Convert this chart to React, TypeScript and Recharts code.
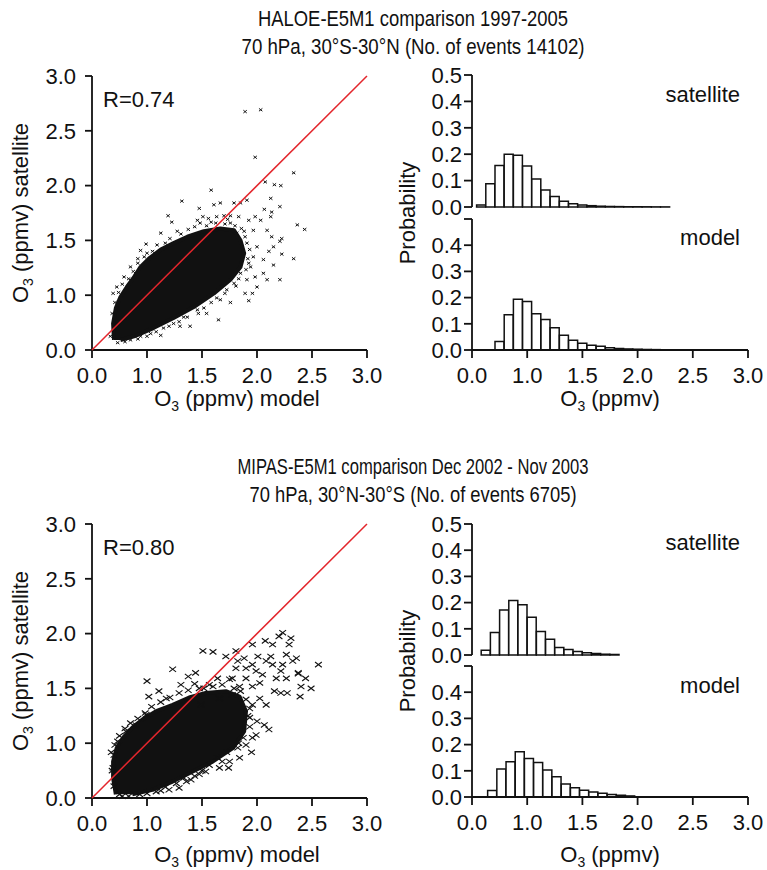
import React from "react";
import { ScatterChart, Scatter, BarChart, Bar, XAxis, YAxis } from "recharts";

const FONT = "'Liberation Sans', Arial, Helvetica, sans-serif";
const INK = "#111111";
const RED = "#e3262c";

// axis ticks (the plots label them 0.0, 1.0, 1.5 ... on an even spacing)
const AXIS_TICKS = [0, 0.6, 1.2, 1.8, 2.4, 3.0];
const AXIS_LABELS = ["0.0", "1.0", "1.5", "2.0", "2.5", "3.0"];
const PROB_TICKS = [0, 0.1, 0.2, 0.3, 0.4, 0.5];

const ONE_TO_ONE = [[0, 0], [3, 3]];

// HALOE: outline of the solid core of the cloud + the loose points around it
const HALOE_CORE = [
  [0.24, 0.11], [0.23, 0.29], [0.26, 0.46], [0.31, 0.58], [0.38, 0.69], [0.46, 0.8],
  [0.53, 0.91], [0.62, 1.0], [0.75, 1.1], [0.89, 1.17], [1.04, 1.24], [1.22, 1.3],
  [1.4, 1.33], [1.55, 1.31], [1.62, 1.2], [1.66, 1.06], [1.62, 0.91], [1.51, 0.77],
  [1.33, 0.62], [1.11, 0.47], [0.89, 0.35], [0.67, 0.24], [0.46, 0.15], [0.31, 0.11],
];
const HALOE_POINTS = [
  [1.67, 2.61], [1.84, 2.63], [1.78, 2.11], [2.2, 1.94], [1.89, 1.84], [1.99, 1.81], [2.06, 1.8],
  [1.3, 1.75], [0.98, 1.63], [1.17, 1.55], [1.33, 1.59], [1.4, 1.61], [1.55, 1.61], [1.62, 1.61],
  [1.69, 1.64], [1.95, 1.66], [2.05, 1.57], [1.96, 1.51], [1.88, 1.54], [0.83, 1.47], [0.87, 1.4],
  [1.15, 1.42], [1.21, 1.46], [1.27, 1.44], [1.36, 1.46], [1.44, 1.47], [1.51, 1.47], [1.6, 1.46],
  [1.71, 1.42], [1.78, 1.46], [1.84, 1.42], [1.95, 1.46], [1.76, 1.31], [1.91, 1.31], [2.24, 1.37],
  [2.32, 1.32], [2.07, 1.22], [1.96, 1.24], [2.05, 1.19], [1.98, 1.13], [1.93, 1.08], [2.07, 1.05],
  [1.8, 1.13], [1.87, 0.99], [2.2, 1.0], [1.98, 0.93], [1.73, 0.91], [1.87, 0.84], [2.05, 0.77],
  [1.91, 0.77], [1.78, 0.8], [1.8, 0.69], [1.75, 0.62], [1.69, 0.77], [1.67, 0.62], [1.51, 0.52],
  [1.71, 0.54], [1.38, 0.33], [1.25, 0.4], [1.07, 0.26], [0.96, 0.26], [0.75, 0.16], [0.59, 1.16],
  [0.5, 1.0], [0.53, 1.09], [0.75, 1.28], [0.2, 0.15], [0.23, 0.62], [0.27, 0.69], [0.35, 0.8],
  [0.42, 0.91], [0.6, 1.06], [0.71, 1.15], [0.93, 1.3], [1.18, 1.39], [1.35, 1.39], [1.51, 1.39],
  [1.58, 1.28], [1.67, 1.24], [1.76, 1.02], [1.71, 0.95], [1.62, 0.84], [1.55, 0.73], [1.47, 0.66],
  [1.36, 0.57], [1.15, 0.44], [1.04, 0.36], [0.89, 0.29], [0.78, 0.24], [0.64, 0.18], [0.53, 0.15],
  [0.42, 0.11], [0.22, 0.4], [0.25, 0.52], [0.29, 0.63], [0.33, 0.72], [0.4, 0.78], [0.45, 0.86],
  [0.5, 0.95], [0.57, 1.02], [0.66, 1.08], [0.8, 1.17], [0.85, 1.22], [0.97, 1.27], [1.05, 1.32],
  [1.12, 1.35], [1.25, 1.36], [1.3, 1.4], [1.45, 1.38], [1.48, 1.43], [1.56, 1.36], [1.63, 1.33],
  [1.66, 1.3], [1.69, 1.17], [1.72, 1.1], [1.7, 1.0], [1.68, 0.88], [1.6, 0.78], [1.57, 0.7],
  [1.45, 0.62], [1.4, 0.55], [1.3, 0.52], [1.22, 0.46], [1.16, 0.4], [1.0, 0.36], [0.95, 0.31],
  [0.84, 0.26], [0.7, 0.2], [0.6, 0.15], [0.5, 0.12], [0.36, 0.09], [0.28, 0.08],
];

// MIPAS
const MIPAS_CORE = [
  [0.26, 0.04], [0.23, 0.22], [0.23, 0.4], [0.27, 0.55], [0.34, 0.66], [0.44, 0.77],
  [0.55, 0.86], [0.7, 0.95], [0.88, 1.02], [1.06, 1.1], [1.24, 1.15], [1.46, 1.17],
  [1.61, 1.11], [1.68, 0.95], [1.66, 0.73], [1.54, 0.55], [1.32, 0.4], [1.1, 0.29],
  [0.88, 0.18], [0.66, 0.09], [0.44, 0.04],
];
const MIPAS_POINTS = [
  [0.6, 1.28], [0.62, 1.11], [0.88, 1.41], [0.97, 1.24], [1.05, 1.33], [1.13, 1.37], [1.21, 1.61],
  [1.32, 1.6], [1.46, 1.55], [1.57, 1.61], [1.59, 1.5], [1.66, 1.53], [1.75, 1.68], [1.81, 1.55],
  [1.89, 1.72], [1.95, 1.55], [1.97, 1.68], [2.04, 1.77], [2.08, 1.81], [2.15, 1.68], [2.17, 1.75],
  [2.12, 1.57], [2.19, 1.5], [2.23, 1.53], [2.25, 1.36], [2.33, 1.31], [2.39, 1.2], [2.47, 1.46],
  [2.28, 1.22], [2.27, 1.11], [2.25, 1.37], [1.79, 1.39], [1.86, 1.35], [1.68, 1.31], [1.75, 1.22],
  [1.83, 1.26], [2.01, 1.31], [2.06, 1.39], [2.12, 1.31], [2.06, 1.15], [2.13, 1.15], [1.99, 1.17],
  [1.83, 1.09], [1.9, 1.02], [1.75, 1.02], [1.8, 0.84], [1.88, 0.8], [1.93, 0.75], [1.79, 0.69],
  [1.68, 0.58], [1.74, 0.5], [1.59, 0.55], [1.49, 0.33], [1.5, 0.4], [1.37, 0.44], [1.24, 0.29],
  [1.08, 0.2], [0.95, 0.11], [0.84, 0.09], [1.19, 1.02], [1.39, 1.09], [1.53, 1.13], [1.28, 1.24],
  [1.5, 1.3], [1.37, 1.31], [1.17, 1.2], [0.73, 1.17], [0.81, 1.09], [0.59, 0.91], [0.48, 0.8],
  [0.37, 0.73], [0.28, 0.62], [0.24, 0.47], [0.23, 0.33], [0.24, 0.13], [0.3, 0.04], [1.75, 1.46],
  [1.68, 1.42], [1.57, 1.42], [1.9, 1.5], [1.97, 1.46], [2.08, 1.46], [1.53, 1.31], [1.61, 1.22],
  [1.72, 0.88], [1.75, 0.66], [1.61, 0.44], [1.39, 0.33], [1.17, 0.26], [1.03, 0.18], [0.7, 0.07],
  [0.52, 0.04], [0.22, 0.3], [0.21, 0.5], [0.25, 0.58], [0.3, 0.68], [0.36, 0.76], [0.42, 0.82],
  [0.5, 0.87], [0.58, 0.93], [0.65, 1.0], [0.75, 1.05], [0.85, 1.1], [0.95, 1.15], [1.05, 1.18],
  [1.12, 1.25], [1.22, 1.2], [1.32, 1.22], [1.42, 1.24], [1.55, 1.2], [1.62, 1.17], [1.68, 1.08],
  [1.72, 0.98], [1.7, 0.9], [1.72, 0.78], [1.65, 0.66], [1.6, 0.6], [1.47, 0.5], [1.42, 0.4],
  [1.28, 0.36], [1.2, 0.3], [1.12, 0.24], [1.0, 0.22], [0.92, 0.16], [0.8, 0.12], [0.75, 0.08],
  [0.6, 0.05], [0.4, 0.02], [0.33, 0.02],
];

// histograms: [bin centre, probability]
const HALOE_SAT = [
  [0.1, 0.008], [0.2, 0.088], [0.3, 0.157], [0.4, 0.2], [0.5, 0.196], [0.6, 0.155], [0.7, 0.106],
  [0.8, 0.064], [0.9, 0.04], [1.0, 0.022], [1.1, 0.012], [1.2, 0.008], [1.3, 0.005], [1.4, 0.003],
  [1.5, 0.002], [1.6, 0.0015], [1.7, 0.001], [1.8, 0.001], [1.9, 0.0008], [2.0, 0.0005], [2.1, 0.0004],
];
const HALOE_MOD = [
  [0.3, 0.032], [0.4, 0.135], [0.5, 0.194], [0.6, 0.185], [0.7, 0.138], [0.8, 0.116], [0.9, 0.085],
  [1.0, 0.056], [1.1, 0.037], [1.2, 0.026], [1.3, 0.018], [1.4, 0.014], [1.5, 0.009], [1.6, 0.006],
  [1.7, 0.004], [1.8, 0.003], [1.9, 0.002], [2.0, 0.0015], [2.1, 0.001], [2.2, 0.001], [2.3, 0.0005],
];
const MIPAS_SAT = [
  [0.15, 0.018], [0.25, 0.086], [0.35, 0.172], [0.45, 0.208], [0.55, 0.192], [0.65, 0.144],
  [0.75, 0.09], [0.85, 0.06], [0.95, 0.029], [1.05, 0.021], [1.15, 0.013], [1.25, 0.009],
  [1.35, 0.006], [1.45, 0.003], [1.55, 0.002],
];
const MIPAS_MOD = [
  [0.22, 0.025], [0.32, 0.107], [0.42, 0.135], [0.52, 0.173], [0.62, 0.147], [0.72, 0.132],
  [0.82, 0.103], [0.92, 0.077], [1.02, 0.05], [1.12, 0.035], [1.22, 0.026], [1.32, 0.019],
  [1.42, 0.014], [1.52, 0.01], [1.62, 0.007], [1.72, 0.004],
];

const toXY = (a: number[][]) => a.map(([x, y]) => ({ x, y }));
const toBins = (a: number[][]) => a.map(([x, p]) => ({ x, p }));

const FS = 22;
const tickStyle = { fill: INK, fontSize: FS, fontFamily: FONT };
const lineStyle = { stroke: INK, strokeWidth: 1.8 };

function XMark(props: any) {
  const { cx, cy, w, h, sw } = props;
  if (cx == null || cy == null) return <g />;
  return (
    <path
      d={`M${cx - w},${cy - h}L${cx + w},${cy + h}M${cx - w},${cy + h}L${cx + w},${cy - h}`}
      stroke={INK}
      strokeWidth={sw}
      fill="none"
    />
  );
}

function ScatterPanel({ top, core, points, mark, tickGap }: any) {
  return (
    <div style={{ position: "absolute", left: 0, top: top - 20 }}>
      <ScatterChart width={390} height={364} margin={{ top: 20, right: 23, bottom: 40, left: 32 }}>
        <XAxis type="number" dataKey="x" domain={[0, 3]} ticks={AXIS_TICKS} interval={0}
          tickFormatter={(_v: any, i: number) => AXIS_LABELS[i]} height={30}
          tick={tickStyle} tickSize={8} tickMargin={tickGap} axisLine={lineStyle} tickLine={lineStyle} />
        <XAxis xAxisId="top" orientation="top" type="number" domain={[0, 3]} height={0}
          tick={false} tickLine={false} axisLine={lineStyle} />
        <YAxis type="number" dataKey="y" domain={[0, 3]} ticks={AXIS_TICKS} interval={0}
          tickFormatter={(_v: any, i: number) => AXIS_LABELS[i]} width={60}
          tick={tickStyle} tickSize={7} tickMargin={9} axisLine={lineStyle} tickLine={lineStyle} />
        <YAxis yAxisId="right" orientation="right" type="number" domain={[0, 3]} width={0}
          tick={false} tickLine={false} axisLine={lineStyle} />
        <Scatter data={toXY(core)} fill={INK} isAnimationActive={false}
          line={{ stroke: INK, strokeWidth: 4, fill: INK, strokeLinejoin: "round" }}
          shape={() => <g />} />
        <Scatter data={toXY(points)} fill={INK} isAnimationActive={false}
          shape={(p: any) => <XMark cx={p.cx} cy={p.cy} {...mark} />} />
        <Scatter data={toXY(ONE_TO_ONE)} fill={RED} isAnimationActive={false}
          line={{ stroke: RED, strokeWidth: 1.5 }} shape={() => <g />} />
      </ScatterChart>
    </div>
  );
}

function HistPanel({ top, bottom, bins, showX, hideTop, tickGap }: any) {
  const plotH = bottom - top;
  const xh = showX ? 40 : 0;
  const mb = showX ? 20 : 16;
  return (
    <div style={{ position: "absolute", left: 400, top: top - 15 }}>
      <BarChart width={367} height={plotH + 15 + xh + mb} data={toBins(bins)}
        margin={{ top: 15, right: 19, bottom: mb, left: 12 }} barCategoryGap={0} barGap={0}>
        <XAxis type="number" dataKey="x" domain={[0, 3]} ticks={AXIS_TICKS} interval={0}
          tickFormatter={(_v: any, i: number) => AXIS_LABELS[i]} height={xh}
          tick={showX ? tickStyle : false} tickSize={8} tickMargin={tickGap}
          axisLine={lineStyle} tickLine={showX ? lineStyle : false} />
        <XAxis xAxisId="top" orientation="top" type="number" domain={[0, 3]} height={0}
          tick={false} tickLine={false} axisLine={lineStyle} />
        <YAxis type="number" domain={[0, 0.5]} ticks={PROB_TICKS} interval={0} width={60}
          tickFormatter={(v: number) => (hideTop && v >= 0.5 ? "" : v.toFixed(1))}
          tick={tickStyle} tickSize={8} tickMargin={2} axisLine={lineStyle} tickLine={lineStyle} />
        <YAxis yAxisId="right" orientation="right" type="number" domain={[0, 0.5]} width={0}
          tick={false} tickLine={false} axisLine={lineStyle} />
        <Bar dataKey="p" fill="#ffffff" stroke={INK} strokeWidth={1.5} barSize={9}
          isAnimationActive={false} />
      </BarChart>
    </div>
  );
}

function O3Title({ x, y, rest, rotate }: any) {
  return (
    <text x={x} y={y} textAnchor="middle" fontSize={FS} fontFamily={FONT} fill={INK}
      transform={rotate ? `rotate(-90 ${x} ${y})` : undefined}>
      O<tspan fontSize={14} dy={5}>3</tspan>
      <tspan dy={-5}>{rest}</tspan>
    </text>
  );
}

function Labels({ dy, title1, title2, w1, w2, r, xTitleY }: any) {
  const t = (v: number) => v + dy;
  return (
    <g fontFamily={FONT} fill={INK}>
      <text x={413} y={t(26)} textAnchor="middle" fontSize={22} textLength={w1}
        lengthAdjust="spacingAndGlyphs">{title1}</text>
      <text x={413} y={t(54)} textAnchor="middle" fontSize={22} textLength={w2}
        lengthAdjust="spacingAndGlyphs">{title2}</text>
      <text x={103} y={t(107)} fontSize={FS}>{r}</text>
      <text x={740} y={t(102)} textAnchor="end" fontSize={FS}>satellite</text>
      <text x={740} y={t(245)} textAnchor="end" fontSize={FS}>model</text>
      <O3Title x={28} y={t(213)} rest=" (ppmv) satellite" rotate />
      <text x={415} y={t(213)} textAnchor="middle" fontSize={FS}
        transform={`rotate(-90 415 ${t(213)})`}>Probability</text>
      <O3Title x={237} y={xTitleY} rest=" (ppmv) model" />
      <O3Title x={610} y={xTitleY} rest=" (ppmv)" />
    </g>
  );
}

export default function App() {
  return (
    <div style={{ position: "absolute", left: 0, top: 0, width: 767, height: 870, background: "#fff", fontFamily: FONT }}>
      <ScatterPanel top={76} core={HALOE_CORE} points={HALOE_POINTS} mark={{ w: 1.7, h: 1.4, sw: 1 }} tickGap={9} />
      <HistPanel top={75} bottom={207} bins={HALOE_SAT} />
      <HistPanel top={219} bottom={350} bins={HALOE_MOD} showX hideTop tickGap={9} />

      <ScatterPanel top={524} core={MIPAS_CORE} points={MIPAS_POINTS} mark={{ w: 3.4, h: 2.6, sw: 1.1 }} tickGap={9} />
      <HistPanel top={524} bottom={655} bins={MIPAS_SAT} />
      <HistPanel top={666} bottom={797} bins={MIPAS_MOD} showX hideTop tickGap={9} />

      <svg width={767} height={870} style={{ position: "absolute", left: 0, top: 0, pointerEvents: "none" }}>
        <Labels dy={0} title1="HALOE-E5M1 comparison 1997-2005"
          title2="70 hPa, 30°S-30°N (No. of events 14102)" w1={310} w2={343} r="R=0.74" xTitleY={406} />
        <Labels dy={448} title1="MIPAS-E5M1 comparison Dec 2002 - Nov 2003"
          title2="70 hPa, 30°N-30°S (No. of events 6705)" w1={351} w2={327} r="R=0.80" xTitleY={862} />
      </svg>
    </div>
  );
}
